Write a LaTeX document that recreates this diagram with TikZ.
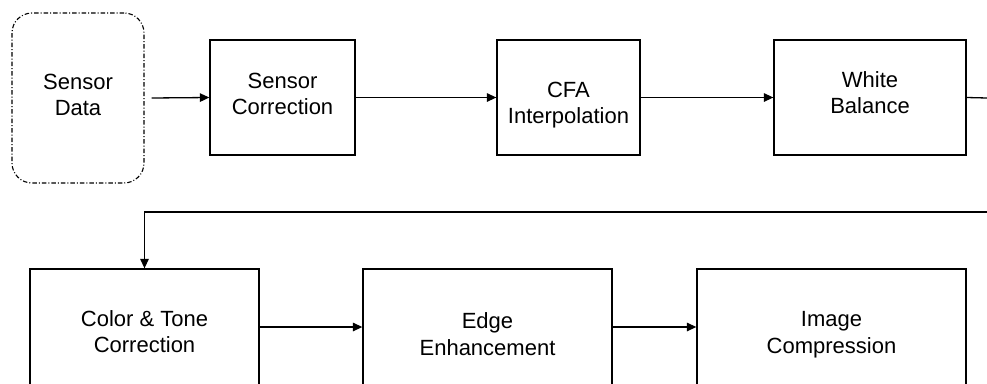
\documentclass[tikz,border=0pt]{standalone}
\usepackage{fontspec}
\setmainfont{Liberation Sans}
\usetikzlibrary{arrows.meta}

% two centred lines of a label, raised by the optional argument
\newcommand\twolines[3][0pt]{%
  \raisebox{#1}[0pt][0pt]{\begin{tabular}[c]{@{}c@{}}#2\\#3\end{tabular}}}

\tikzset{
  stage/.style={draw=black, line width=1.3pt, rectangle, align=center,
                inner sep=0pt, font=\fontsize{22}{26.5}\selectfont},
  source/.style={stage, line width=1.1pt, rounded corners=20pt,
                 dash pattern=on 4.5pt off 2pt on 1pt off 2pt},
  flow/.style={line width=1.3pt, -{Triangle[length=9.5pt,width=8.5pt]}},
  plain/.style={line width=1.3pt}
}

\begin{document}
\begin{tikzpicture}[x=1pt, y=-1pt]
  \clip (0,0) rectangle (987,383);
  \useasboundingbox (0,0) rectangle (987,383);

  % first row
  \node[source, minimum width=132pt, minimum height=170pt] (src) at (78,98)
    {\twolines[-4.5pt]{Sensor}{Data}};
  \node[stage, minimum width=145pt, minimum height=115pt] (sc) at (282.5,97.5)
    {\twolines[-4pt]{Sensor}{Correction}};
  \node[stage, minimum width=143pt, minimum height=115pt] (cfa) at (568.5,97.5)
    {\twolines[-13pt]{CFA}{Interpolation}};
  \node[stage, minimum width=192pt, minimum height=115pt] (wb) at (870,97.5)
    {\twolines[-3pt]{White}{Balance}};

  % second row (lower edges run past the frame)
  \node[stage, minimum width=229pt, minimum height=116pt] (ct) at (144.5,327)
    {\twolines[-12.5pt]{Color \& Tone}{Correction}};
  \node[stage, minimum width=249pt, minimum height=116pt] (ee) at (487.5,327)
    {\twolines[-15pt]{Edge}{Enhancement}};
  \node[stage, minimum width=269pt, minimum height=116pt] (ic) at (831.5,327)
    {\twolines[-13pt]{Image}{Compression}};

  % return path from the end of the first row
  \coordinate (outA) at (987,98);
  \coordinate (inB) at (987,212);
  \coordinate (turn) at (ct.north |- inB);

  \draw[flow] ([xshift=7pt]src.east) -- (sc.west);
  \draw[flow] (sc) -- (cfa);
  \draw[flow] (cfa) -- (wb);
  \draw[plain] (wb.east) -- (outA);
  \draw[flow] (inB) -- (turn) -- (ct.north);
  \draw[flow] (ct) -- (ee);
  \draw[flow] (ee) -- (ic);
\end{tikzpicture}
\end{document}
